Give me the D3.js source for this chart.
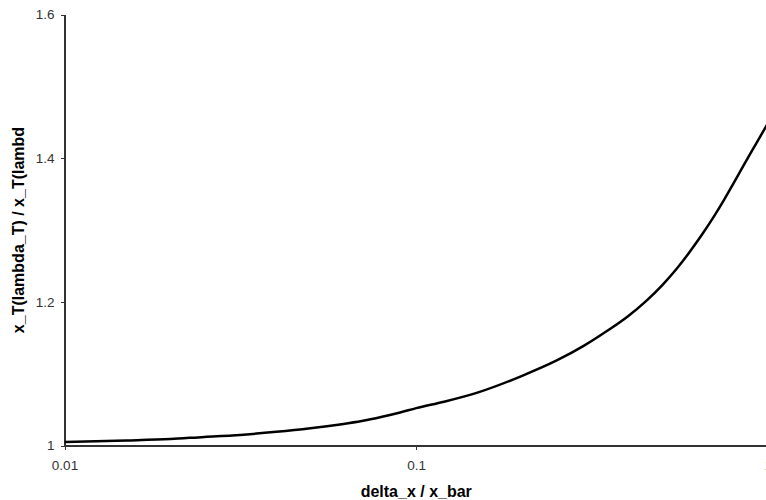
<!DOCTYPE html>
<meta charset="utf-8">
<style>
    body { margin: 0; background: #fff; }
    svg { font-family: "Liberation Sans", Arial, sans-serif; }
    .axis path, .axis line { fill: none; stroke: #333; shape-rendering: crispEdges; }
    .axis text { fill: #333; font-size: 13.5px; }
</style>
<body>
<script src="https://cdn.jsdelivr.net/npm/d3@7"></script>
<script>
    // values
    const xVals = [0.01, 0.015, 0.02, 0.025, 0.03, 0.04, 0.05, 0.06, 0.07, 0.08, 0.09, 0.1,
                   0.12, 0.15, 0.2, 0.25, 0.3, 0.35, 0.4, 0.45, 0.5, 0.55, 0.6, 0.65, 0.7, 0.75, 0.8, 0.85, 0.9, 0.95, 1.0];
    const yVals = [1.005, 1.007, 1.009, 1.012, 1.014, 1.019, 1.024, 1.029, 1.034, 1.040, 1.046, 1.052,
                   1.061, 1.074, 1.097, 1.118, 1.139, 1.160, 1.180, 1.201, 1.223, 1.246, 1.270, 1.294, 1.318, 1.342, 1.366, 1.389, 1.410, 1.430, 1.449];
    const xTicks = [0.01, 0.1, 1];
    const xTickLabels = ["0.01", "0.1", "1"];
    const yTicks = [1, 1.2, 1.4, 1.6];
    const yTickLabels = ["1", "1.2", "1.4", "1.6"];
    const xTitle = "delta_x / x_bar";
    const yTitle = "x_T(lambda_T) / x_T(lambd";

    const width = 766, height = 500;
    const margin = {top: 14.5, left: 64.5, bottom: 445.5, right: 768};

    const svg = d3.select('body').append('svg')
        .attr('width', width)
        .attr('height', height);

    const x = d3.scaleLog().domain([0.01, 1]).range([margin.left, margin.right]);
    const y = d3.scaleLinear().domain([1, 1.6]).range([margin.bottom, margin.top]);

    // x axis
    const xAxis = svg.append('g')
        .attr('class', 'axis')
        .attr('transform', 'translate(0,' + margin.bottom + ')')
        .call(d3.axisBottom(x).tickValues(xTicks).tickSize(4).tickSizeOuter(0)
            .tickFormat((d, i) => xTickLabels[i]));
    xAxis.select('.domain').attr('stroke-width', 1.5);
    xAxis.selectAll('text').attr('dy', 0).attr('y', 24);

    // y axis
    const yAxis = svg.append('g')
        .attr('class', 'axis')
        .attr('transform', 'translate(' + margin.left + ',0)')
        .call(d3.axisLeft(y).tickValues(yTicks).tickSize(4).tickSizeOuter(0)
            .tickFormat((d, i) => yTickLabels[i]));
    yAxis.select('.domain').attr('stroke-width', 1.5);
    yAxis.selectAll('text').attr('x', -10);

    // curve
    const pts = xVals.map((d, i) => [d, yVals[i]]);
    svg.append('path')
        .datum(pts)
        .attr('fill', 'none')
        .attr('stroke', '#000')
        .attr('stroke-width', 2.5)
        .attr('d', d3.line().x(d => x(d[0])).y(d => y(d[1])).curve(d3.curveMonotoneX));

    // titles
    svg.append('text')
        .attr('x', (margin.left + margin.right) / 2)
        .attr('y', 497)
        .attr('text-anchor', 'middle')
        .style('font-size', '16px')
        .style('font-weight', 'bold')
        .text(xTitle);

    svg.append('text')
        .attr('transform', 'translate(24,' + ((margin.top + margin.bottom) / 2) + ') rotate(-90)')
        .attr('text-anchor', 'middle')
        .style('font-size', '16px')
        .style('font-weight', 'bold')
        .text(yTitle);
</script>
</body>
</html>
